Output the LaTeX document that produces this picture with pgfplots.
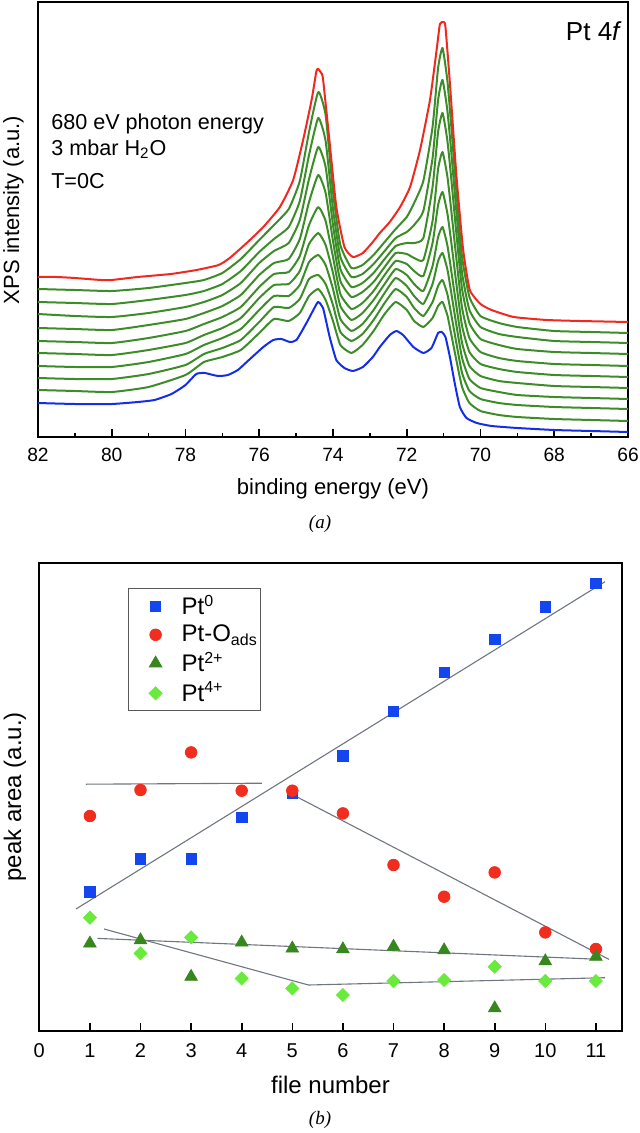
\documentclass[border=0pt]{standalone}
\usepackage{pgfplots}
\pgfplotsset{compat=1.18}
\usepackage{pgfplotstable}
\usepackage{fontspec}
\setmainfont{Liberation Sans}
\newfontfamily\seriffont{Liberation Serif}
\definecolor{cred}{RGB}{240,40,30}
\definecolor{cgreen}{RGB}{60,140,40}
\definecolor{cblue}{RGB}{20,45,230}
\definecolor{sqblue}{RGB}{20,70,240}
\definecolor{ptred}{RGB}{240,45,30}
\definecolor{tri}{RGB}{55,135,30}
\definecolor{dia}{RGB}{105,235,60}
\definecolor{fitgray}{RGB}{110,118,128}

% intermediate spectra (files 2-10), heights in arbitrary units
\pgfplotstableread{
x g1 g2 g3 g4 g5 g6 g7 g8 g9
82 148 135 123 109 96 84 71 59 47
81 147 134 121 108 95 83 70 58 46
80 146 133 120 107 94 82 70 58 45
79 149 137 124 112 99 87 75 63 50
78 154 142 130 118 106 94 83 72 62
77.5 157 146 135 124 113 102 92 83 75
77 164 153 142 131 120 109 99 89 80
76.5 178 166 154 142 130 119 108 97 87
76 197 185 174 162 150 139 127 115 104
75.6 212 198 186 174 163 152 141 130 118
75.2 228 210 194 178 165 153 141 129 116
74.9 256 236 217 198 181 166 152 138 124
74.65 305 282 258 235 212 193 175 158 141
74.4 345 319 290 262 230 204 182 162 148
74.2 322 296 270 244 216 192 172 153 137
74.0 245 228 212 196 180 164 148 132 116
73.8 192 180 168 156 143 131 118 105 92
73.5 169 160 150 140 128 117 106 96 84
73.2 172 163 154 145 134 124 113 103 92
72.9 182 173 164 155 146 137 127 117 106
72.6 195 186 178 170 162 153 144 134 123
72.3 208 199 191 184 176 168 159 148 135
72.0 220 205 194 183 173 162 151 140 127
71.8 234 212 194 179 166 153 141 129 116
71.55 256 226 199 177 161 146 133 121 110
71.3 310 279 250 216 194 171 153 135 119
71.15 369 337 305 268 232 200 176 151 131
71.03 389 357 324 285 245 210 184 157 135
70.9 357 327 297 261 224 192 168 143 122
70.8 314 288 261 229 197 168 146 124 104
70.65 244 224 202 177 152 130 111 93 76
70.5 180 164 148 129 111 94 79 64 50
70.3 140 127 114 99 85 71 58 46 34
70.0 121 110 98 85 73 61 49 38 26
69.5 114 103 92 79 68 56 45 34 22
69 110 100 88 76 65 54 42 32 20
68 106 96 85 73 62 51 40 30 18
67 105 95 84 72 61 50 39 29 17
66 104 94 83 71 60 49 38 28 16
}\greens

% peak areas (arbitrary units)
\pgfplotstableread{
f pt0 ptoads pt2 pt4
1 139 214.7 87.3 113
2 171.7 240.7 90.5 77.3
3 171.7 278.3 54 93.3
4 213.3 240 88.3 52.3
5 237.3 240 82.3 42.3
6 275 217.3 81.5 35.7
7 319.3 165.7 84 49.7
8 358.3 134 80.5 50.7
9 391.3 158.3 22.5 64
10 424 98.3 69.5 49.7
11 447.3 81.7 74 49.7
}\areas

\begin{document}
\begin{tikzpicture}
\useasboundingbox (0,0) rectangle (320pt,-566.5pt);

% ---------------- panel (a) ----------------
\begin{axis}[
  at={(19pt,-1pt)}, anchor=north west,
  scale only axis, width=295pt, height=217.5pt,
  xmin=66, xmax=82, x dir=reverse, ymin=0, ymax=435,
  ytick=\empty,
  xtick={66,68,...,82}, minor xtick={67,69,...,81},
  xtick pos=left, tick align=inside,
  major tick length=4pt, minor tick length=2pt,
  axis line style={line width=0.9pt},
  every tick/.style={black, line width=0.8pt},
  /pgf/number format/assume math mode=true,
  xticklabel style={font=\fontsize{9.6}{11}\selectfont, anchor=center, yshift=-9pt},
  xlabel={binding energy (eV)},
  ylabel={XPS intensity (a.u.)},
  label style={font=\fontsize{11}{13}\selectfont},
  xlabel style={at={(axis description cs:0.5,0)}, anchor=center, yshift=-26pt},
  ylabel style={at={(axis description cs:-0.0417,0.522)}, anchor=center},
  every axis plot/.append style={line width=1pt, line join=round, no marks, smooth, tension=0.3},
]
\addplot[cblue] coordinates {
(82,34)(81,33)(80,33)(79.29,35)(78.84,37)(78.38,43)(78.0,52)(77.71,63)(77.48,64)(77.12,61)
(76.85,62)(76.58,67)(76.34,75)(75.89,90)(75.62,97)(75.4,98)(75.17,95)(74.99,97)(74.72,114)
(74.49,130)(74.4,135)(74.27,129)(74.09,100)(73.91,77)(73.69,69)(73.46,66)(73.19,70)(72.92,80)
(72.73,90)(72.46,102)(72.28,106)(72.1,102)(71.82,90)(71.55,84)(71.33,89)(71.15,104)(71.05,105)
(70.95,100)(70.83,80)(70.7,54)(70.56,30)(70.38,19)(70.1,14)(69.7,11)(69,9)(68,7)(67,6)(66,5)};
\addplot[cgreen] table[x=x,y=g9] {\greens};
\addplot[cgreen] table[x=x,y=g8] {\greens};
\addplot[cgreen] table[x=x,y=g7] {\greens};
\addplot[cgreen] table[x=x,y=g6] {\greens};
\addplot[cgreen] table[x=x,y=g5] {\greens};
\addplot[cgreen] table[x=x,y=g4] {\greens};
\addplot[cgreen] table[x=x,y=g3] {\greens};
\addplot[cgreen] table[x=x,y=g2] {\greens};
\addplot[cgreen] table[x=x,y=g1] {\greens};
\addplot[cred] coordinates {
(82,160)(81.5,160)(81,159)(80.3,157)(80,157)(79.3,160)(78.4,163)(77.7,167)(77.1,172)(76.8,179)
(76.34,194)(75.89,210)(75.44,230)(75.08,257)(74.81,297)(74.58,337)(74.45,366)(74.4,368)(74.32,364)
(74.27,358)(74.09,294)(73.91,230)(73.69,190)(73.46,180)(73.19,184)(72.92,195)(72.73,204)(72.46,215)
(72.18,230)(71.91,250)(71.64,287)(71.37,337)(71.19,387)(71.1,413)(71.0,415)(70.95,410)(70.83,354)
(70.65,260)(70.47,187)(70.29,147)(70.0,133)(69.7,127)(69.1,120)(68.2,117)(67.3,116)(66,115)};
\node[anchor=west, inner xsep=0pt, font=\fontsize{10.8}{13}\selectfont] at (axis cs:81.65,313) {680 eV photon energy};
\node[anchor=west, inner xsep=0pt, font=\fontsize{10.8}{13}\selectfont] at (axis cs:81.65,288) {3 mbar H\textsubscript{2}O};
\node[anchor=west, inner xsep=0pt, font=\fontsize{10.8}{13}\selectfont] at (axis cs:81.65,256) {T=0C};
\node[anchor=east, inner xsep=0pt, font=\fontsize{13}{15}\selectfont] at (axis cs:66.16,406) {Pt 4\textit{f}};
\end{axis}

\node[font=\seriffont\itshape\fontsize{9.5}{11}\selectfont] at (160pt,-262pt) {(a)};

% ---------------- panel (b) ----------------
\begin{axis}[
  at={(19.65pt,-281.35pt)}, anchor=north west,
  scale only axis, width=291.2pt, height=234pt,
  xmin=0, xmax=11.51, ymin=0, ymax=468,
  ytick=\empty, xtick={0,...,11},
  xtick pos=left, tick align=inside,
  major tick length=4pt,
  axis line style={line width=0.9pt},
  every tick/.style={black, line width=0.8pt},
  /pgf/number format/assume math mode=true,
  xticklabel style={font=\fontsize{10}{12}\selectfont, anchor=center, yshift=-10pt},
  xlabel={file number},
  ylabel={peak area (a.u.)},
  label style={font=\fontsize{12}{14}\selectfont},
  xlabel style={at={(axis description cs:0.5,0)}, anchor=center, yshift=-27.2pt},
  ylabel style={at={(axis description cs:-0.0419,0.5)}, anchor=center},
  legend style={at={(0.152,0.945)}, anchor=north west, draw=black!65,
    font=\fontsize{12}{14}\selectfont, inner xsep=1pt, inner ysep=2pt,
    row sep=1.6pt, column sep=4pt, nodes={inner xsep=0.3pt, inner ysep=1pt}},
  legend cell align=left,
  legend image code/.code={\path (-12.5pt,0pt) (8.5pt,0pt); \draw[#1] plot coordinates {(0pt,0pt)};},
]
\addplot[fitgray, line width=0.55pt, forget plot] coordinates {(0.725,121.7)(11.18,449)};
\addplot[fitgray, line width=0.55pt, forget plot] coordinates {(0.92,246.5)(4.40,247.5)};
\addplot[fitgray, line width=0.55pt, forget plot] coordinates {(5.02,235.7)(11.26,71.3)};
\addplot[fitgray, line width=0.55pt, forget plot] coordinates {(1.15,92.3)(11.11,71.3)};
\addplot[fitgray, line width=0.55pt, forget plot] coordinates {(1.28,101.7)(5.32,45.7)(11.18,53)};

\addplot[only marks, mark=square*, mark size=2.6pt, color=sqblue] table[x=f,y=pt0] {\areas};
\addlegendentry{Pt\textsuperscript{0}}
\addplot[only marks, mark=*, mark size=2.9pt, color=ptred] table[x=f,y=ptoads] {\areas};
\addlegendentry{Pt-O\textsubscript{ads}}
\addplot[only marks, mark=triangle*, mark size=3.6pt, color=tri] table[x=f,y=pt2] {\areas};
\addlegendentry{Pt\textsuperscript{2+}}
\addplot[only marks, mark=square*, mark size=2.3pt, mark options={rotate=45}, color=dia] table[x=f,y=pt4] {\areas};
\addlegendentry{Pt\textsuperscript{4+}}
\end{axis}

\node[font=\seriffont\itshape\fontsize{9.5}{11}\selectfont] at (160pt,-560pt) {(b)};
\end{tikzpicture}
\end{document}
